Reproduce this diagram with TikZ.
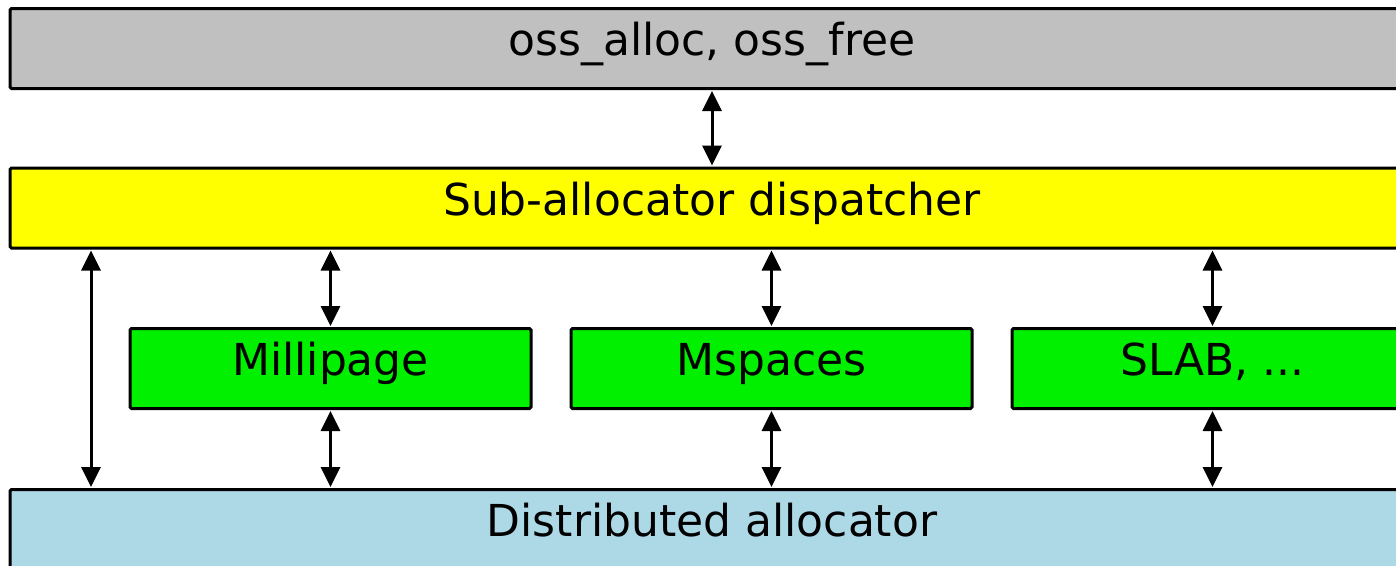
\documentclass[tikz,border=0pt]{standalone}
\usepackage{fontspec}
\setmainfont{DejaVu Sans}
\usetikzlibrary{arrows.meta}
\definecolor{layergray}{HTML}{C0C0C0}
\definecolor{layeryellow}{HTML}{FFFF00}
\definecolor{layergreen}{HTML}{00F000}
\definecolor{layerblue}{HTML}{ADD8E6}
\tikzset{
  layer/.style={draw=black, line width=3pt, rounded corners=1.5pt, minimum height=80pt,
    inner sep=0pt, text height=30pt, text depth=16pt, font=\fontsize{44}{52}\selectfont},
  biarrow/.style={line width=3pt, {Triangle[width=19pt,length=20pt]}-{Triangle[width=19pt,length=20pt]}, shorten <=1pt, shorten >=1pt}
}
\begin{document}
\begin{tikzpicture}[x=1pt,y=-1pt]
\useasboundingbox (0,0) rectangle (1396,565);
\clip (0,0) rectangle (1396,565);
\node[layer, fill=layergray, minimum width=1404pt] (api) at (712,48.5) {oss\_alloc, oss\_free};
\node[layer, fill=layeryellow, minimum width=1404pt] (disp) at (712,208) {Sub-allocator dispatcher};
\node[layer, fill=layergreen, minimum width=401pt] (mill) at (330.5,368.5) {Millipage};
\node[layer, fill=layergreen, minimum width=401pt] (msp) at (771.5,368.5) {Mspaces};
\node[layer, fill=layergreen, minimum width=401pt] (slab) at (1212.5,368.5) {SLAB, ...};
\node[layer, fill=layerblue, minimum width=1404pt, anchor=north] (dist) at (712,488) {Distributed allocator};
\coordinate (bypass) at (91,248);
\draw[biarrow] (api.south) -- (disp.north);
\draw[biarrow] (disp.south -| bypass) -- (dist.north -| bypass);
\foreach \n in {mill,msp,slab}{
  \draw[biarrow] (disp.south -| \n.north) -- (\n.north);
  \draw[biarrow] (\n.south) -- (dist.north -| \n.south);
}
\end{tikzpicture}
\end{document}
